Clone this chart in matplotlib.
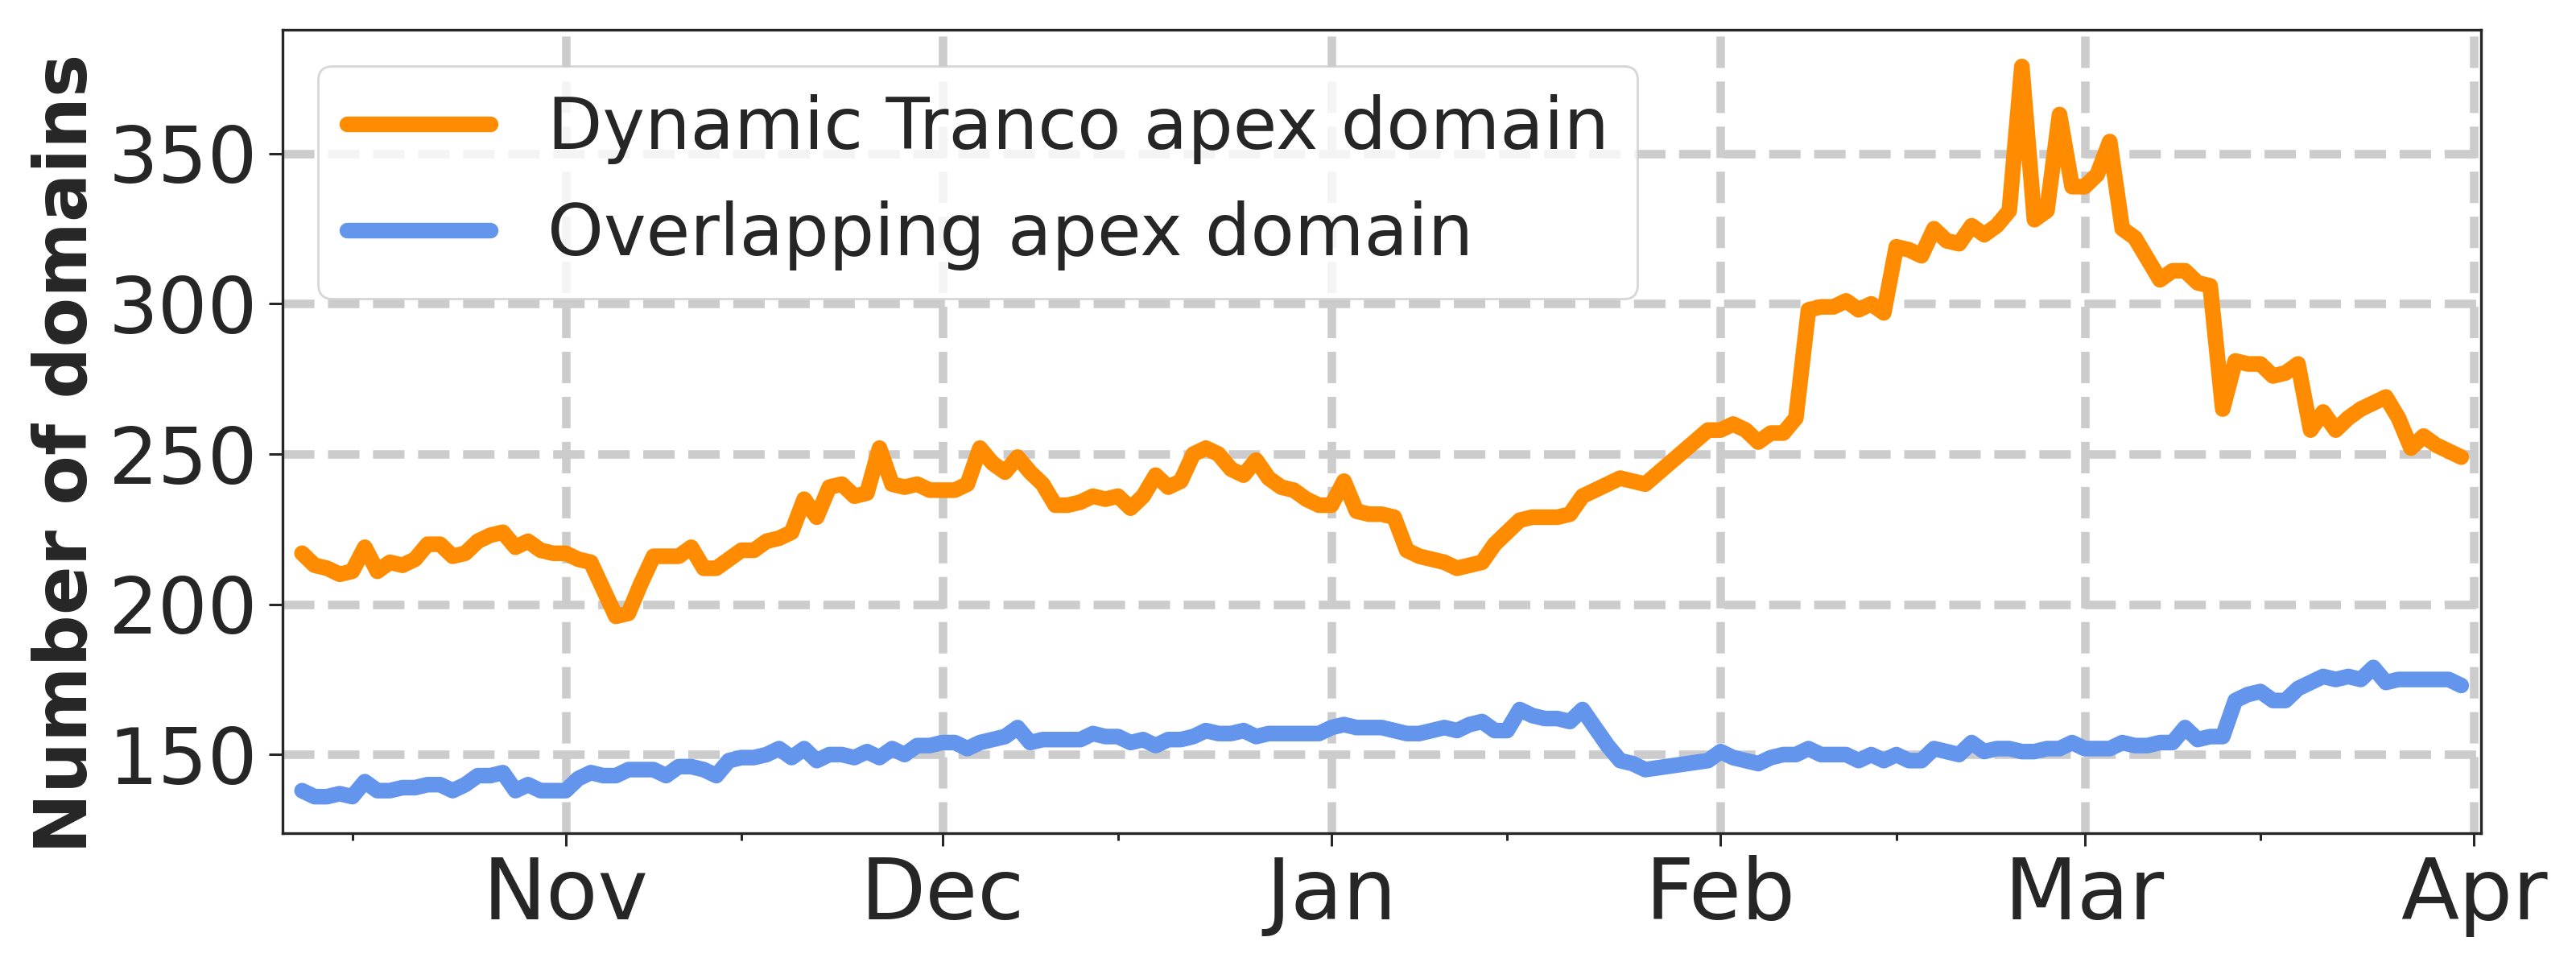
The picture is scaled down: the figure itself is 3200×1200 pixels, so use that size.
#!/usr/bin/env python3
# -*- coding: utf-8 -*-
"""Daily count of Tranco apex domains vs. overlapping ones, Oct 2023 - Mar 2024."""

import matplotlib
matplotlib.use("Agg")
import matplotlib.pyplot as plt
import matplotlib.dates as mdates
import numpy as np
import pandas as pd

plt.rcParams["font.family"] = ["DejaVu Sans"]
TEXT = "#262626"

# one value per day from 2023-10-11; None = no measurement that day
START, END = "2023-10-11", "2024-03-31"

tranco_oct = [217, 213, 212, 210, 211, 219, 211, 214, 213, 215, 220,
              220, 216, 217, 221, 223, 224, 219, 221, 218, 217]
tranco_nov = [217, 215, 214, 205, 196, 197, 207, 216, 216, 216,
              219, 212, 212, 215, 218, 218, 221, 222, 224, 235,
              229, 239, 240, 236, 237, 252, 240, 239, 240, 238]
tranco_dec = [238, 238, 240, 252, 247, 244, 249, 244, 240, 233,
              233, 234, 236, 235, 236, 232, 236, 243, 239, 241,
              250, 252, 250, 245, 243, 248, 242, 239, 238, 235, 233]
tranco_jan = [233, 241, 231, 230, 230, 229, 218, 216, 215, 214,
              212, 213, 214, 220, 224, 228, 229, 229, 229, 230,
              236, 238, 240, 242, 241, 240, None, None, None, None, 258]
tranco_feb = [258, 260, 258, 254, 257, 257, 262, 298, 299, 299,
              301, 298, 300, 297, 319, 318, 316, 325, 321, 320,
              326, 323, 326, 331, 379, 328, 331, 363, 339]
tranco_mar = [339, 343, 354, 325, 322, 315, 308, 311, 311, 307,
              306, 265, 281, 280, 280, 276, 277, 280, 258, 264,
              258, 262, 265, 267, 269, 262, 252, 256, 253, 251, 249]

overlap_oct = [138, 136, 136, 137, 136, 141, 138, 138, 139, 139, 140,
               140, 138, 140, 143, 143, 144, 138, 140, 138, 138]
overlap_nov = [138, 142, 144, 143, 143, 145, 145, 145, 143, 146,
               146, 145, 143, 148, 149, 149, 150, 152, 149, 152,
               148, 150, 150, 149, 151, 149, 152, 150, 153, 153]
overlap_dec = [154, 154, 152, 154, 155, 156, 159, 154, 155, 155,
               155, 155, 157, 156, 156, 154, 155, 153, 155, 155,
               156, 158, 157, 157, 158, 156, 157, 157, 157, 157, 157]
overlap_jan = [159, 160, 159, 159, 159, 158, 157, 157, 158, 159,
               158, 160, 161, 158, 158, 165, 163, 162, 162, 161,
               165, 159, 153, 148, 147, 145, None, None, None, None, 148]
overlap_feb = [151, 149, 148, 147, 149, 150, 150, 152, 150, 150,
               150, 148, 150, 148, 150, 148, 148, 152, 151, 150,
               154, 151, 152, 152, 151, 151, 152, 152, 154]
overlap_mar = [152, 152, 152, 154, 153, 153, 154, 154, 159, 155,
               156, 156, 168, 170, 171, 168, 168, 172, 174, 176,
               175, 176, 175, 179, 174, 175, 175, 175, 175, 175, 173]

SERIES = [
    ("Dynamic Tranco apex domain", "#ff8c00",
     tranco_oct + tranco_nov + tranco_dec + tranco_jan + tranco_feb + tranco_mar),
    ("Overlapping apex domain", "#6495ed",
     overlap_oct + overlap_nov + overlap_dec + overlap_jan + overlap_feb + overlap_mar),
]


def draw():
    days = pd.date_range(START, END, freq="D")

    fig, ax = plt.subplots(figsize=(16, 6), dpi=200)
    fig.subplots_adjust(left=0.1097, right=0.963, bottom=0.1375, top=0.969)

    for name, color, vals in SERIES:
        v = np.array([np.nan if x is None else x for x in vals], dtype=float)
        ok = ~np.isnan(v)
        ax.plot(days[ok], v[ok], color=color, lw=7, label=name,
                solid_joinstyle="round", solid_capstyle="round", zorder=3)

    pad = pd.Timedelta(days=1.55)
    ax.set_xlim(days[0] - pad, days[-1] + pad)

    ax.xaxis.set_major_locator(mdates.MonthLocator())
    ax.xaxis.set_major_formatter(mdates.DateFormatter("%b"))
    ax.xaxis.set_minor_locator(mdates.MonthLocator(bymonthday=15))
    ax.set_yticks([150, 200, 250, 300, 350])

    ax.set_axisbelow(True)
    ax.grid(True, which="major", ls="--", lw=3.8, color="#cccccc")

    for sp in ax.spines.values():
        sp.set_color(TEXT)
        sp.set_linewidth(1.2)
    ax.tick_params(axis="x", which="major", length=5.6, width=1.1,
                   labelsize=38, pad=4, colors=TEXT)
    ax.tick_params(axis="x", which="minor", length=3.2, width=1.1, colors=TEXT)
    ax.tick_params(axis="y", length=6, width=1.1, labelsize=35, pad=5,
                   colors=TEXT)

    ax.set_ylabel("Number of domains", fontsize=32.3, weight="bold",
                  color=TEXT, labelpad=3, y=0.473)

    leg = ax.legend(loc="upper left", fontsize=32, labelcolor=TEXT)
    for ln in leg.get_lines():
        ln.set_linewidth(7)

    fig.savefig("out.png", dpi=200, facecolor="white")
    plt.close(fig)


if __name__ == "__main__":
    draw()
